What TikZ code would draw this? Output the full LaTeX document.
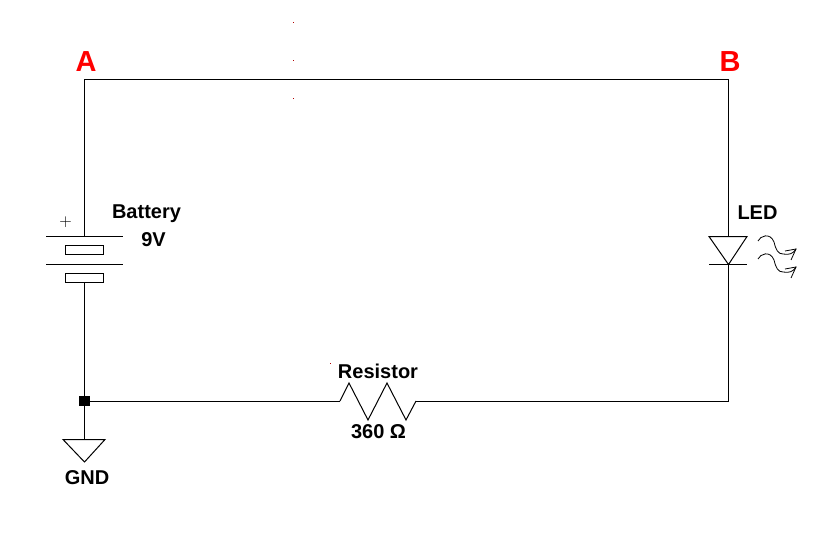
\documentclass[tikz,border=0pt]{standalone}
\usepackage{fontspec}
\setmainfont{Liberation Sans}
\tikzset{
  wire/.style={draw=black,line width=1pt,line join=miter},
  lbl/.style={inner sep=0pt,font=\fontsize{20}{24}\selectfont\bfseries,text=black},
  corner/.style={inner sep=0pt,font=\fontsize{29}{33}\selectfont\bfseries,text=red},
  speck/.style={fill=red!70!black,draw=none,minimum size=1pt,inner sep=0pt,shape=rectangle},
  cell/.style={draw=black,line width=1pt,fill=white,minimum width=38pt,minimum height=9.5pt,inner sep=0pt,shape=rectangle},
  joint/.style={fill=black,draw=none,minimum size=10.5pt,inner sep=0pt,shape=rectangle},
  photon/.style={draw=black,line width=0.8pt}
}
\begin{document}
\begin{tikzpicture}[x=1pt,y=-1pt]
\useasboundingbox (0,0) rectangle (832,540);
% corners and junctions
\coordinate (tl) at (84.5,79.5);
\coordinate (tr) at (728.5,79.5);
\coordinate (br) at (728.5,401);
\coordinate (batTop) at (84.5,236.5);
\coordinate (ledTop) at (728.5,236.5);
\coordinate (ledBot) at (728.5,264.5);
\coordinate (rIn) at (340,401);
\coordinate (rOut) at (416,401);
\coordinate (gndTop) at (84.5,439.5);
% battery
\node[cell] (cellA) at (84.5,250) {};
\node[cell] (cellB) at (84.5,278) {};
\coordinate (p1l) at (46,236.5); \coordinate (p1r) at (123,236.5);
\coordinate (p2l) at (46,264.5); \coordinate (p2r) at (123,264.5);
\draw[wire] (p1l) -- (p1r);
\draw[wire] (p2l) -- (p2r);
\node[joint] (junction) at (84.5,401) {};
% wires
\draw[wire] (batTop) -- (tl) -- (tr) -- (ledTop);
\draw[wire] (cellB.south) -- (junction.center);
\draw[wire] (junction.center) -- (rIn);
\draw[wire] (rIn) -- (349,383) -- (368,420) -- (387,383) -- (406,420) -- (416,401) -- (rOut);
\draw[wire] (rOut) -- (br) -- (ledBot);
\draw[wire] (junction.center) -- (gndTop);
% ground
\draw[wire] (63,439.5) -- (105,439.5) -- (84.5,462) -- cycle;
% LED
\draw[wire] (709,236.5) -- (747,236.5) -- (728.5,264.5) -- cycle;
\draw[wire] (709,264.5) -- (747,264.5);
% LED light
\foreach \d in {0,18}{
  \begin{scope}[yshift=-\d pt]
  \draw[photon] (758,241) .. controls (760,236) and (770,232) .. (774,242)
     .. controls (776,250) and (778,254) .. (783,254)
     .. controls (789,255) and (793,254) .. (796,249);
  \draw[photon] (785,251) -- (796,249) -- (791,260);
  \end{scope}
}
% specks
\node[speck] (s1) at (293.5,22.5) {};
\node[speck] (s2) at (293.5,60.5) {};
\node[speck] (s3) at (293.5,98.5) {};
\node[speck] (s4) at (330.5,363) {};
% labels
\node[corner] (A) at (86,61.5) {A};
\node[corner] (B) at (730,61.5) {B};
\node[lbl] (batt) at (146.5,214) {Battery};
\node[lbl] (volts) at (153.5,239.5) {9V};
\node[lbl] (led) at (757.5,212.5) {LED};
\node[lbl] (res) at (378,371) {Resistor};
\node[lbl] (ohm) at (378.5,431.5) {360 Ω};
\node[lbl] (gnd) at (87,477.5) {GND};
\node[inner sep=0pt,font=\fontsize{16}{20}\selectfont] (plus) at (65.5,222) {$+$};
\end{tikzpicture}
\end{document}
